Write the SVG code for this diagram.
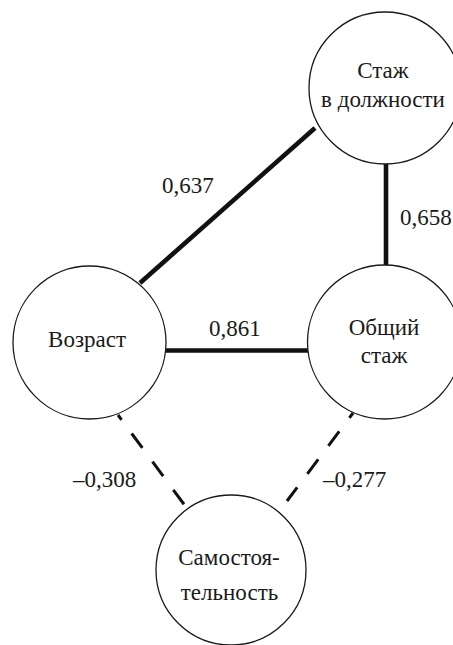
<svg xmlns="http://www.w3.org/2000/svg" width="453" height="645" viewBox="0 0 453 645" font-family="Liberation Serif, DejaVu Serif, serif">
  <style>
    .node circle { fill: #ffffff; stroke: #1a1a1a; stroke-width: 1.3; }
    text { font-size: 23px; fill: #1a1a1a; }
    .label { text-anchor: middle; }
    .strong { stroke: #111111; stroke-width: 4.6; fill: none; }
    .weak { stroke: #111111; stroke-width: 3; fill: none; stroke-dasharray: 18 17; stroke-dashoffset: 12; }
  </style>
  <rect width="453" height="645" fill="#ffffff"/>

  <!-- correlation links -->
  <g id="connectors">
    <line class="strong" x1="140" y1="283" x2="315" y2="128"/>
    <line class="strong" x1="386" y1="160" x2="386" y2="268"/>
    <line class="strong" x1="162" y1="350.5" x2="311" y2="350.5"/>
    <line class="weak" x1="118" y1="415" x2="186" y2="507"/>
    <line class="weak" x1="353" y1="413" x2="287" y2="501"/>
    <text x="162" y="193">0,637</text>
    <text x="400" y="225">0,658</text>
    <text x="209" y="336">0,861</text>
    <text x="73" y="487">–0,308</text>
    <text x="323" y="487">–0,277</text>
  </g>

  <g id="node-tenure-position" class="node">
    <circle cx="385" cy="88" r="76"/>
    <text class="label" x="383" y="78">Стаж</text>
    <text class="label" x="383" y="107">в должности</text>
  </g>

  <g id="node-age" class="node">
    <circle cx="89.5" cy="342.5" r="76.5"/>
    <text class="label" x="87" y="347">Возраст</text>
  </g>

  <g id="node-total-tenure" class="node">
    <circle cx="384.5" cy="342" r="77"/>
    <text class="label" x="384" y="335">Общий</text>
    <text class="label" x="384" y="363">стаж</text>
  </g>

  <g id="node-autonomy" class="node">
    <circle cx="231" cy="570" r="75"/>
    <text class="label" x="229" y="565">Самостоя-</text>
    <text class="label" x="229.5" y="600">тельность</text>
  </g>
</svg>
